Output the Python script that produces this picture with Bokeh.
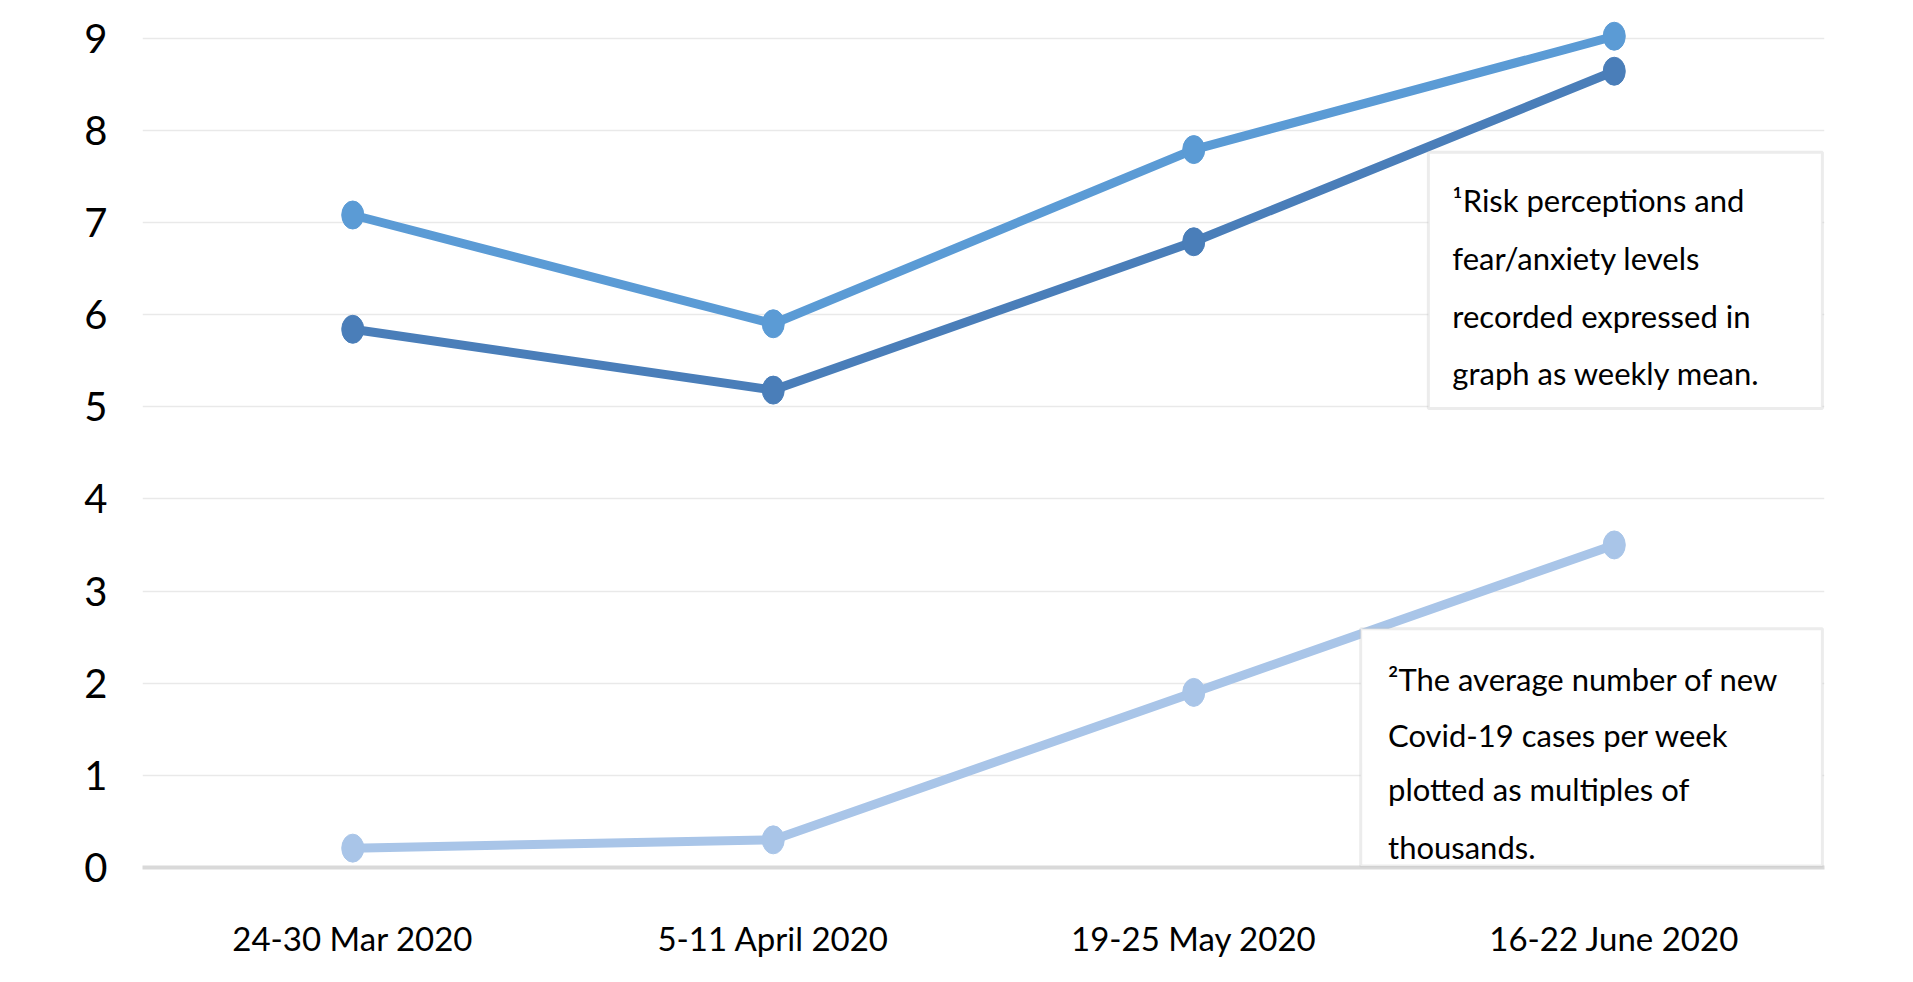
from bokeh.plotting import figure
from bokeh.models import FactorRange, Range1d, BoxAnnotation, Label, SingleIntervalTicker
from bokeh.embed import file_html
from bokeh.resources import INLINE

categories = ["24-30 Mar 2020", "5-11 April 2020", "19-25 May 2020", "16-22 June 2020"]
risk_perception = [7.08, 5.90, 7.79, 9.02]
fear_anxiety = [5.84, 5.18, 6.79, 8.64]
new_cases_thousands = [0.21, 0.30, 1.90, 3.50]

note1 = ["\u00b9Risk perceptions and", "fear/anxiety levels", "recorded expressed in", "graph as weekly mean."]
note2 = ["\u00b2The average number of new", "Covid-19 cases per week", "plotted as multiples of", "thousands."]

FONT = "Lato"

p = figure(width=1897, height=966, x_range=FactorRange(*categories), y_range=Range1d(0, 9.31),
           output_backend="svg", toolbar_location=None)
p.min_border_left = 142
p.min_border_right = 73
p.min_border_top = 9
p.min_border_bottom = 99
p.outline_line_color = None
p.background_fill_color = "white"
p.border_fill_color = "white"

p.xgrid.grid_line_color = None
p.ygrid.grid_line_color = "#E9E9E9"
p.ygrid.grid_line_width = 1.5
p.yaxis.ticker = SingleIntervalTicker(interval=1)

p.yaxis.axis_line_color = None
p.yaxis.major_tick_line_color = None
p.yaxis.minor_tick_line_color = None
p.yaxis.major_label_text_font = FONT
p.yaxis.major_label_text_font_size = "40px"
p.yaxis.major_label_text_color = "black"
p.yaxis.major_label_standoff = 29

p.xaxis.axis_line_color = "#D9D9D9"
p.xaxis.axis_line_width = 4
p.xaxis.major_tick_line_color = None
p.xaxis.minor_tick_line_color = None
p.xaxis.major_label_text_font = FONT
p.xaxis.major_label_text_font_size = "33px"
p.xaxis.major_label_text_color = "black"
p.xaxis.major_label_standoff = 44

series = [
    (new_cases_thousands, "#A9C5E8"),
    (fear_anxiety, "#4A7EB9"),
    (risk_perception, "#5B9BD5"),
]
for vals, col in series:
    p.line(categories, vals, line_color=col, line_width=9)
    p.ellipse(categories, vals, width=22, height=28, width_units="screen", height_units="screen",
              fill_color=col, line_color=col)

# note boxes
p.add_layout(BoxAnnotation(left=3.058, right=3.995, top=7.76, bottom=4.98,
                           fill_color="white", fill_alpha=1.0,
                           line_color="#BFBFBF", line_width=3))
p.add_layout(BoxAnnotation(left=2.897, right=3.995, top=2.59, bottom=0.015,
                           fill_color="white", fill_alpha=1.0,
                           line_color="#BFBFBF", line_width=3))

for txt, yy in zip(note1, [7.24, 6.61, 5.98, 5.37]):
    p.add_layout(Label(x=3.115, y=yy, text=txt, text_font=FONT, text_font_size="31px",
                       text_baseline="middle", text_align="left", text_color="black"))
for txt, yy in zip(note2, [2.04, 1.44, 0.85, 0.22]):
    p.add_layout(Label(x=2.962, y=yy, text=txt, text_font=FONT, text_font_size="31px",
                       text_baseline="middle", text_align="left", text_color="black"))

open("out.html", "w").write(file_html(p, INLINE))
